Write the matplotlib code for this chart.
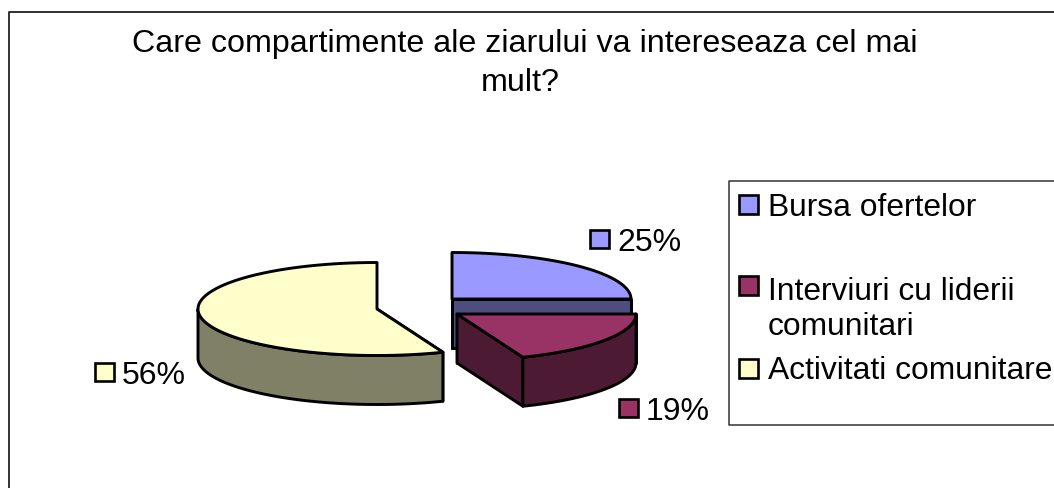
"""
Exploded 3D-style pie chart, drawn on a pixel-sized axes.
"""

import numpy as np
import matplotlib.pyplot as plt
from matplotlib.patches import Polygon, Rectangle

plt.rcParams["font.family"] = ["Liberation Sans", "DejaVu Sans"]

title_lines = ["Care compartimente ale ziarului va intereseaza cel mai", "mult?"]
categories = ["Bursa ofertelor", "Interviuri cu liderii\ncomunitari", "Activitati comunitare"]
values = [25, 19, 56]
top_colors = ["#9999FF", "#993366", "#FFFFCC"]
side_colors = ["#4D4D80", "#4D1A33", "#808066"]

# pie geometry in pixels
centers = [(452, 300), (457, 315), (377, 310)]
rx, ry, depth = 179, 46.5, 49
label_pos = [(590, 231), (619, 400), (95, 364)]
legend_y = [196, 277, 360]
legend_base = [216, 335, 379]
title_pos = [(525, 52), (520.5, 91)]
swatch = 19
line_w = 2.1


def arc(center, start, end):
    # clockwise from start to end, degrees
    t = np.radians(np.linspace(start, end, 120))
    return np.column_stack([center[0] + rx * np.cos(t), center[1] - ry * np.sin(t)])


def draw_slice(ax, i, start, end, z):
    c = centers[i]
    pts = arc(c, start, end)
    kw = dict(closed=True, ec="black", lw=line_w, joinstyle="round", zorder=z)

    # flat walls running from the apex to the rim
    for a in (start, end):
        edge = arc(c, a, a)[0]
        if edge[1] > c[1] or a == 0 or a == 90:
            wall = [c, edge, edge + [0, depth], np.array(c) + [0, depth]]
            ax.add_patch(Polygon(wall, fc=side_colors[i], **kw))

    # outer curved wall, only the part facing the viewer
    t_front = np.linspace(start, end, 240)
    t_front = t_front[np.sin(np.radians(t_front)) <= 1e-9]
    if len(t_front):
        rim = arc(c, t_front[0], t_front[-1])
        wall = np.vstack([rim, rim[::-1] + [0, depth]])
        ax.add_patch(Polygon(wall, fc=side_colors[i], **kw))

    ax.add_patch(Polygon(np.vstack([[c], pts]), fc=top_colors[i], **kw))


fig = plt.figure(figsize=(10.54, 4.89), dpi=100)
ax = fig.add_axes([0, 0, 1, 1])
ax.set_xlim(0, 1054)
ax.set_ylim(489, 0)
ax.axis("off")

# chart frame, cropped on the right and at the bottom
ax.plot([8.5, 8.5, 1054], [489, 13, 13], color="#222222", lw=1.3)

for line, (x, y) in zip(title_lines, title_pos):
    ax.text(x, y, line, ha="center", va="baseline", fontsize=23.2, color="black")

# slices run clockwise from twelve o'clock
angles = 90 - np.cumsum([0] + values) * 3.6
for i, z in zip([0, 1, 2], [2, 4, 3]):
    draw_slice(ax, i, angles[i], angles[i + 1], z)

# data labels
for i, (x, y) in enumerate(label_pos):
    ax.add_patch(Rectangle((x, y), swatch, swatch - 1, fc=top_colors[i], ec="black", lw=1.9))
    ax.text(x + swatch + 8, y + 20, f"{values[i]}%", ha="left", va="baseline",
            fontsize=23, color="black")

# legend box
ax.plot([1054, 729, 729, 1054], [182, 182, 426, 426], color="#333333", lw=1.1)
for i, y in enumerate(legend_y):
    ax.add_patch(Rectangle((739, y), swatch, swatch, fc=top_colors[i], ec="black", lw=1.9))
    ax.text(768, legend_base[i], categories[i], ha="left", va="baseline", fontsize=22.9,
            color="black", linespacing=1.22)

fig.savefig("out.png", dpi=100)
